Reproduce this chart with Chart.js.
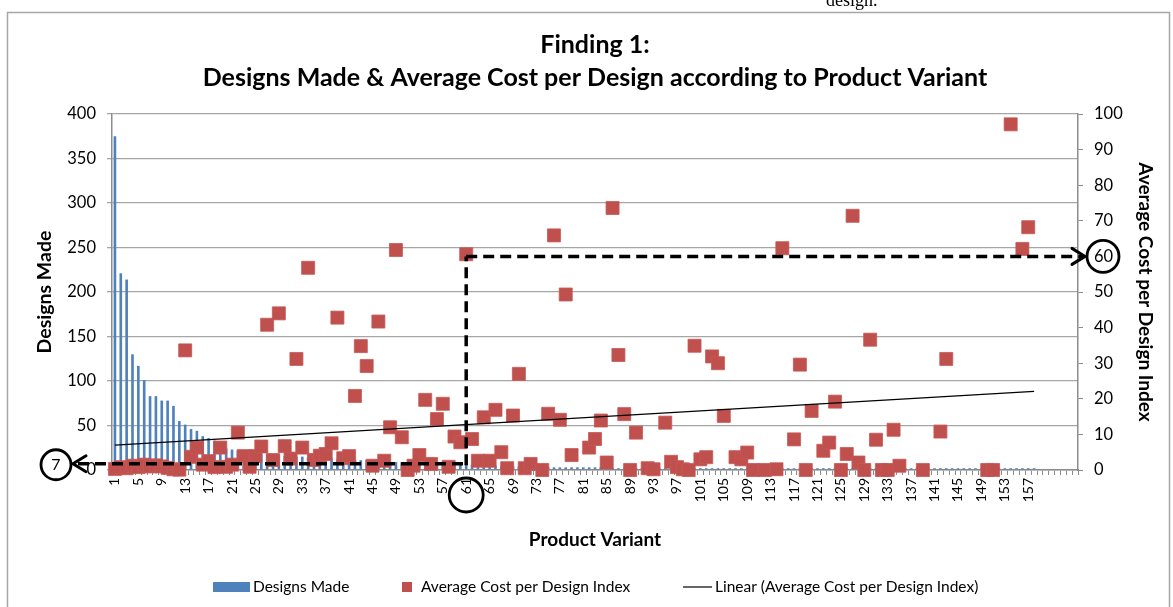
<!DOCTYPE html>
<html><head><meta charset="utf-8">
<script src="https://cdn.jsdelivr.net/npm/chart.js@4"></script>
<style>
html,body{margin:0;padding:0;background:#fff;overflow:hidden}
#wrap{position:relative;width:1173px;height:607px;overflow:hidden}
#doc{position:absolute;left:826px;top:-9px;font-family:"Liberation Serif";font-size:18px;line-height:18px;color:#000;z-index:2}
canvas{position:absolute;left:0;top:0}
</style></head><body>
<div id="wrap"><canvas id="c" width="1173" height="607"></canvas><div id="doc">design.</div></div>
<script>
// ---- data ----
const variants = ['1','2','3','4','5','6','7','8','9','10','11','12','13','14','15','16','17','18','19','20',
'21','22','23','24','25','26','27','28','29','30','31','32','33','34','35','36','37','38','39','40',
'41','42','43','44','45','46','47','48','49','50','51','52','53','54','55','56','57','58','59','60',
'61','62','63','64','65','66','67','68','69','70','71','72','73','74','75','76','77','78','79','80',
'81','82','83','84','85','86','87','88','89','90','91','92','93','94','95','96','97','98','99','100',
'101','102','103','104','105','106','107','108','109','110','111','112','113','114','115','116','117','118','119','120',
'121','122','123','124','125','126','127','128','129','130','131','132','133','134','135','136','137','138','139','140',
'141','142','143','144','145','146','147','148','149','150','151','152','153','154','155','156','157','158',
'','','','','','',''];

const designsMade = [375,221,214,130,117,101,83,83,78,78,72,55,51,46,44,38,36,33,27,24,23,22,
21,20,19,18,18,17,17,16,16,15,15,14,14,13,13,13,12,12,12,11,11,11,10,10,10,9,9,9,9,8,8,8,8,8,7,7,7,7,7,
6,6,5,5,5,4,4,4,4,
3,3,3,3,3,3,3,3,3,3,3,3,3,3,3,
2,2,2,2,2,2,2,2,2,2,2,2,2,2,2,2,2,2,2,2,2,2,2,2,2,2,2,2,2,2,2,2,2,2,2,2,2,
2,2,2,2,2,2,2,2,2,2,2,2,2,2,2,2,2,2,2,2,2,2,2,2,2,2,2,2,2,2,2,2,2,2,2,2];

const avgCostIndex = [0.3,0.8,0.5,1.2,0.8,1.5,1.0,1.3,1.0,0.6,0.2,0.1,33.6,3.7,6.3,1.5,2.5,0.8,6.3,0.9,
1.5,10.5,3.9,0.9,3.9,6.6,40.8,2.8,44.0,6.7,3.2,31.2,6.3,56.8,2.8,4.0,4.5,7.5,42.8,3.3,
3.9,20.8,34.8,29.2,1.2,41.7,2.6,12.0,61.8,9.2,0,1.2,4.2,19.7,1.7,14.3,18.6,0.9,9.4,7.8,
60.6,8.7,2.6,14.8,2.6,16.9,5.0,0.5,15.3,27.0,0.5,1.7,null,0,15.8,65.9,14.1,49.3,4.2,null,
null,6.3,8.7,13.9,2.1,73.6,32.3,15.7,0,10.5,null,0.5,0.2,null,13.3,2.3,0.8,0.2,0,34.9,
3.0,3.6,31.9,30.0,15.2,null,3.6,3.0,4.9,0,null,0,null,0.2,62.3,null,8.6,29.6,0,16.6,
null,5.4,7.7,19.2,0,4.5,71.4,2.1,0,36.6,8.5,0,0,11.3,1.2,null,null,null,0,null,
null,10.8,31.2,null,null,null,null,null,null,0,0,null,null,97.1,null,62.1,68.2,null];

// linear trendline end values (first and last variant)
const trendStart = 7.0;
const trendEnd = 22.1;
const trendLine = variants.map((v, i) => i === 0 ? trendStart : (i === 157 ? trendEnd : null));

const leftTicks = [0,50,100,150,200,250,300,350,400];
const rightTicks = [0,10,20,30,40,50,60,70,80,90,100];
const markVariantIndex = 60;   // variant 61
const markDesigns = 7;
const markCost = 60;

const FONT = 'Lato';
const BLUE = '#4F81BD', RED = '#C0504D', GRID = '#A6A6A6', AXIS = '#8C8C8C';

function dashedLine(ctx, x1, y1, x2, y2) {
  ctx.save();
  ctx.strokeStyle = '#000'; ctx.lineWidth = 3.5; ctx.setLineDash([11, 6]);
  ctx.beginPath(); ctx.moveTo(x1, y1); ctx.lineTo(x2, y2); ctx.stroke();
  ctx.restore();
}
function circle(ctx, x, y, r) {
  ctx.save(); ctx.strokeStyle = '#000'; ctx.lineWidth = 2.8;
  ctx.beginPath(); ctx.arc(x, y, r, 0, Math.PI * 2); ctx.stroke(); ctx.restore();
}
function chevron(ctx, x, y, dir) {
  ctx.save(); ctx.strokeStyle = '#000'; ctx.lineWidth = 3; ctx.lineCap = 'round';
  ctx.beginPath(); ctx.moveTo(x - dir * 13, y - 8); ctx.lineTo(x, y); ctx.lineTo(x - dir * 13, y + 8); ctx.stroke();
  ctx.restore();
}

const extras = {
  id: 'extras',
  beforeDraw(chart) {
    const ctx = chart.ctx;
    ctx.save();
    ctx.fillStyle = '#fff'; ctx.fillRect(0, 0, chart.width, chart.height);
    ctx.strokeStyle = '#A6A6A6'; ctx.lineWidth = 1.5;
    ctx.strokeRect(7.5, 12.5, 1162, 640);
    ctx.restore();
  },
  afterDraw(chart) {
    const ctx = chart.ctx;
    const xs = chart.scales.x, yl = chart.scales.y, yr = chart.scales.y1;
    const px = xs.getPixelForValue(markVariantIndex);
    const y7 = yl.getPixelForValue(markDesigns);
    const y60 = yr.getPixelForValue(markCost);
    dashedLine(ctx, 78, y7, px, y7);
    dashedLine(ctx, px, y7 + 1.5, px, y60);
    dashedLine(ctx, px, y60, 1083, y60);
    chevron(ctx, 73, y7, -1);
    chevron(ctx, 1085, y60, 1);
    // circled values
    circle(ctx, 56, y7 + 1, 15);
    ctx.save();
    ctx.fillStyle = '#000'; ctx.font = '16px ' + FONT; ctx.textAlign = 'center'; ctx.textBaseline = 'middle';
    ctx.fillText(String(markDesigns), 56, y7 + 1);
    ctx.restore();
    circle(ctx, 1103, y60, 16);
    circle(ctx, px, 495, 17);
    // legend
    ctx.save();
    const ly = 587;
    ctx.font = '15.5px ' + FONT; ctx.fillStyle = '#000'; ctx.textBaseline = 'middle'; ctx.textAlign = 'left';
    ctx.fillStyle = BLUE; ctx.fillRect(213, ly - 5, 37, 10);
    ctx.fillStyle = '#000'; ctx.fillText(chart.data.datasets[0].label, 253, ly);
    ctx.fillStyle = RED; ctx.fillRect(402, ly - 5, 10, 10);
    ctx.fillStyle = '#000'; ctx.fillText(chart.data.datasets[1].label, 421, ly);
    ctx.strokeStyle = '#000'; ctx.lineWidth = 1.2;
    ctx.beginPath(); ctx.moveTo(683, ly); ctx.lineTo(712, ly); ctx.stroke();
    ctx.fillText(chart.data.datasets[2].label, 715, ly);
    ctx.restore();
  }
};

new Chart(document.getElementById('c'), {
  type: 'bar',
  data: {
    labels: variants,
    datasets: [
      { type: 'bar', label: 'Designs Made', data: designsMade, backgroundColor: BLUE, yAxisID: 'y',
        barPercentage: 0.45, categoryPercentage: 1, order: 3 },
      { type: 'line', label: 'Average Cost per Design Index', data: avgCostIndex, yAxisID: 'y1',
        showLine: false, pointStyle: 'rect', pointRadius: 9.2, pointHoverRadius: 9.2,
        backgroundColor: RED, borderColor: '#C65855', pointBorderWidth: 0.8, clip: false, order: 2 },
      { type: 'line', label: 'Linear (Average Cost per Design Index)', data: trendLine, yAxisID: 'y1',
        spanGaps: true, pointRadius: 0, borderColor: '#000', borderWidth: 1.2, order: 1 }
    ]
  },
  options: {
    responsive: false, animation: false,
    layout: { padding: { left: 33, right: 16, top: 0, bottom: 55 } },
    plugins: {
      legend: { display: false }, tooltip: { enabled: false },
      title: { display: true, text: ['Finding 1:', 'Designs Made & Average Cost per Design according to Product Variant'],
        color: '#000', font: { family: FONT, size: 25, weight: 'bold', lineHeight: 1.32 }, padding: { top: 28, bottom: 20 } }
    },
    scales: {
      x: {
        offset: true,
        afterFit(s) { s.height = 82; },
        grid: { display: true, drawOnChartArea: false, drawTicks: true, tickLength: 5, color: AXIS, offset: true },
        border: { color: AXIS, width: 1.5 },
        ticks: { autoSkip: false, maxRotation: 90, minRotation: 90, padding: 3, color: '#000',
          font: { family: FONT, size: 14 },
          callback(v, i) { return i % 4 === 0 ? variants[i] : ''; } },
        title: { display: true, text: 'Product Variant', color: '#000', font: { family: FONT, size: 19, weight: 'bold' }, padding: { top: 0, bottom: 1 } }
      },
      y: {
        position: 'left', min: 0, max: 400,
        afterFit(s) { s.width = 79; },
        afterBuildTicks(s) { s.ticks = leftTicks.map(v => ({ value: v })); },
        grid: { color: GRID, lineWidth: 1.3, tickLength: 5, drawTicks: true },
        border: { color: AXIS, width: 1.5 },
        ticks: { padding: 11, color: '#000', font: { family: FONT, size: 16.5 } },
        title: { display: true, text: 'Designs Made', color: '#000', font: { family: FONT, size: 19.5, weight: 'bold' }, padding: { top: 0, bottom: 0 } }
      },
      y1: {
        position: 'right', min: 0, max: 100,
        afterFit(s) { s.width = 79; },
        afterBuildTicks(s) { s.ticks = rightTicks.map(v => ({ value: v })); },
        grid: { drawOnChartArea: false, drawTicks: true, tickLength: 5, color: AXIS },
        border: { color: AXIS, width: 1.5 },
        ticks: { padding: 11, color: '#000', font: { family: FONT, size: 16.5 } },
        title: { display: true, text: 'Average Cost per Design Index', color: '#000', font: { family: FONT, size: 19, weight: 'bold' }, padding: { top: 0, bottom: 0 } }
      }
    }
  },
  plugins: [extras]
});
</script>
</body></html>
